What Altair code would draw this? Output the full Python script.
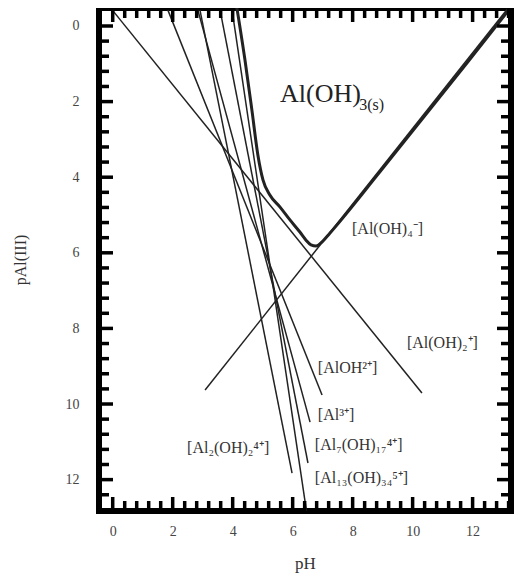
import altair as alt
import pandas as pd

# ---- species lines (straight), endpoints ----
species = ["Al(OH)2+", "AlOH2+", "Al3+", "Al2(OH)2 4+", "Al7(OH)17 4+", "Al13(OH)34 5+", "Al(OH)4-"]
ph_start = [0.01, 1.84, 2.84, 2.91, 3.58, 3.98, 3.08]
pal_start = [-0.40, -0.42, -0.42, -0.42, -0.42, -0.42, 9.63]
ph_end = [10.31, 6.98, 6.58, 5.98, 6.51, 6.46, 13.16]
pal_end = [9.71, 9.76, 10.48, 11.83, 11.56, 12.83, -0.45]

# ---- total solubility curve (thick) ----
total_ph = [4.14, 4.41, 4.64, 4.84, 5.01, 5.24, 5.58, 5.91, 6.24, 6.44, 6.61, 6.78, 6.98, 7.24, 8.91, 11.81, 13.18]
total_pal = [-0.48, 0.90, 2.22, 3.41, 4.07, 4.47, 4.79, 5.13, 5.45, 5.66, 5.79, 5.82, 5.71, 5.48, 3.86, 0.98, -0.40]

# ---- labels ----
label_text = ["[Al(OH)\u2084\u207b]", "[Al(OH)\u2082\u207a]", "[AlOH\u00b2\u207a]", "[Al\u00b3\u207a]",
              "[Al\u2087(OH)\u2081\u2087\u2074\u207a]", "[Al\u2081\u2083(OH)\u2083\u2084\u2075\u207a]",
              "[Al\u2082(OH)\u2082\u2074\u207a]"]
label_ph = [7.98, 9.81, 6.84, 6.84, 6.74, 6.74, 2.48]
label_pal = [5.37, 8.39, 9.05, 10.29, 11.08, 11.96, 11.16]

solid_main = ["Al(OH)"]
solid_main_ph = [5.58]
solid_main_pal = [1.80]
solid_sub = ["3(s)"]
solid_sub_ph = [8.22]
solid_sub_pal = [2.08]

# ---- axis ticks ----
x_labels = [0, 2, 4, 6, 8, 10, 12]
y_labels = [0, 2, 4, 6, 8, 10, 12]
x_ticks = [round(0.4 * i, 1) for i in range(0, 34)]
y_ticks = [round(0.4 * i, 1) for i in range(0, 33)]
x_major = [t for t in x_ticks if abs(t / 2 - round(t / 2)) < 1e-6]
x_minor = [t for t in x_ticks if t not in x_major]
y_major = [t for t in y_ticks if abs(t / 2 - round(t / 2)) < 1e-6]
y_minor = [t for t in y_ticks if t not in y_major]

W, H = 412, 503
FONT = "Liberation Serif"

rows = []
for s, a, b, c, d in zip(species, ph_start, pal_start, ph_end, pal_end):
    rows.append({"species": s, "pH": a, "pAl": b, "o": 0})
    rows.append({"species": s, "pH": c, "pAl": d, "o": 1})
lines_df = pd.DataFrame(rows)
total_df = pd.DataFrame({"pH": total_ph, "pAl": total_pal, "o": list(range(len(total_ph)))})
labels_df = pd.DataFrame({"t": label_text, "pH": label_ph, "pAl": label_pal})
main_df = pd.DataFrame({"t": solid_main, "pH": solid_main_ph, "pAl": solid_main_pal})
sub_df = pd.DataFrame({"t": solid_sub, "pH": solid_sub_ph, "pAl": solid_sub_pal})

xscale = alt.Scale(domain=[-0.457, 13.28], nice=False, zero=False)
yscale = alt.Scale(domain=[-0.476, 12.83], nice=False, zero=False, reverse=True)
xaxis = alt.Axis(values=x_labels, ticks=False, tickSize=0, domain=False, grid=False,
                 labelPadding=13, labelFont=FONT, labelFontSize=14, labelColor="#444",
                 title="pH", titleFont=FONT, titleFontSize=17, titleFontWeight="normal",
                 titleColor="#333", titlePadding=17)
yaxis = alt.Axis(values=y_labels, ticks=False, tickSize=0, domain=False, grid=False,
                 labelPadding=20, labelFont=FONT, labelFontSize=14, labelColor="#444",
                 title="pAl(III)", titleFont=FONT, titleFontSize=16, titleFontWeight="normal",
                 titleColor="#333", titlePadding=37)

X = alt.X("pH:Q", scale=xscale, axis=xaxis)
Y = alt.Y("pAl:Q", scale=yscale, axis=yaxis)

lines = alt.Chart(lines_df).mark_line(color="#222", strokeWidth=1.5, clip=True).encode(
    x=X, y=Y, detail="species:N", order="o:Q")
total = alt.Chart(total_df).mark_line(color="#222", strokeWidth=3, clip=True,
                                       interpolate="monotone").encode(x=X, y=Y, order="o:Q")
labels = alt.Chart(labels_df).mark_text(align="left", baseline="middle", font=FONT,
                                         fontSize=16, color="#333").encode(x=X, y=Y, text="t:N")
solid = alt.Chart(main_df).mark_text(align="left", baseline="middle", font=FONT,
                                      fontSize=26, color="#222").encode(x=X, y=Y, text="t:N")
solid_s = alt.Chart(sub_df).mark_text(align="left", baseline="middle", font=FONT,
                                       fontSize=16, color="#222").encode(x=X, y=Y, text="t:N")


def xtick_layer(vals, length, top):
    df = pd.DataFrame({"pH": vals})
    if top:
        yv, y2v = alt.value(0), alt.value(length)
    else:
        yv, y2v = alt.value(H), alt.value(H - length)
    return alt.Chart(df).mark_rule(color="black", strokeWidth=3.5).encode(x=X, y=yv, y2=y2v)


def ytick_layer(vals, length, left):
    df = pd.DataFrame({"pAl": vals})
    if left:
        xv, x2v = alt.value(0), alt.value(length)
    else:
        xv, x2v = alt.value(W), alt.value(W - length)
    return alt.Chart(df).mark_rule(color="black", strokeWidth=3.5).encode(y=Y, x=xv, x2=x2v)


ticks = [
    xtick_layer(x_minor, 10, False), xtick_layer(x_major, 14, False),
    xtick_layer(x_minor, 10, True), xtick_layer(x_major, 14, True),
    ytick_layer(y_minor, 10, True), ytick_layer(y_major, 14, True),
    ytick_layer(y_minor, 10, False), ytick_layer(y_major, 14, False),
]

chart = alt.layer(lines, total, labels, solid, solid_s, *ticks).properties(
    width=W, height=H,
    autosize=alt.AutoSizeParams(type="none"),
    padding={"left": 91, "top": 0, "right": 3, "bottom": 65},
).configure_view(stroke="black", strokeWidth=6)

chart.save("out.html", embed_options={"renderer": "svg", "actions": False})
